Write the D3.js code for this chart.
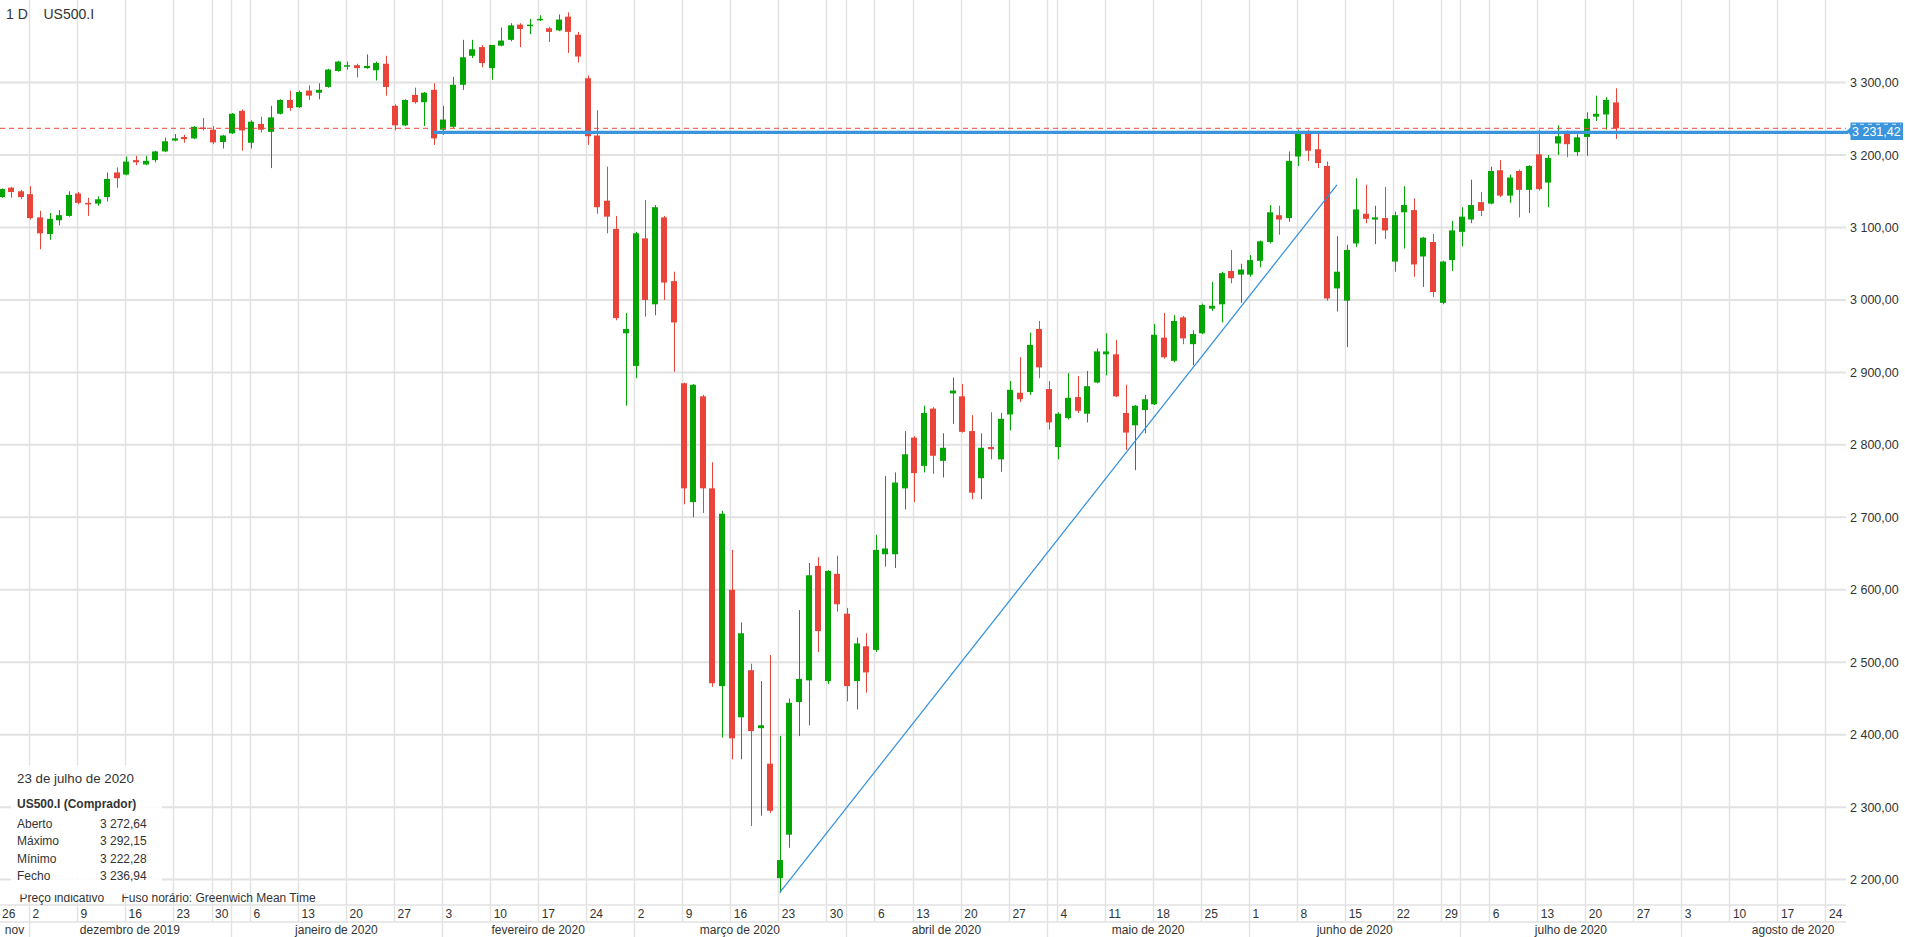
<!DOCTYPE html>
<html><head><meta charset="utf-8">
<script src="https://cdn.jsdelivr.net/npm/d3@7"></script>
<style>
html,body{margin:0;padding:0;background:#fff;overflow:hidden}
svg{display:block;font-family:"Liberation Sans",Arial,sans-serif}
</style></head><body>
<svg id="chart" width="1905" height="937"></svg>
<script>
// ---------- DATA ----------
const symbol = "US500.I";
const period = "1 D";
const firstDay = "2019-11-26", lastDay = "2020-08-31";
const closedDays = ["2019-12-25", "2020-01-01", "2020-04-10"];
const firstCandle = "2019-11-27";
const opens = [3142,3155,3150,3146,3114,3091,3110,3116,3147,3134,
3133,3142,3176,3173,3193,3187,3193,3205,3220,3225,
3223,3238,3235,3218,3230,3261,3217,3243,3232,3257,
3276,3266,3289,3286,3294,3316,3322,3324,3320,3317,
3326,3268,3241,3283,3273,3290,3235,3239,3297,3337,
3349,3320,3351,3359,3380,3378,3386,3375,3372,3391,
3366,3306,3227,3137,3098,2954,2909,3085,2994,3114,
3026,2885,2721,2867,2740,2467,2600,2424,2489,2409,
2360,2202,2262,2445,2475,2633,2474,2622,2567,2474,
2522,2517,2649,2649,2740,2810,2771,2850,2778,2871,
2867,2819,2754,2797,2780,2842,2872,2873,2960,2877,
2797,2837,2866,2843,2886,2925,2925,2844,2827,2848,
2856,2948,2916,2976,2939,2954,2988,2994,3040,3035,
3035,3054,3080,3117,3113,3198,3229,3208,3185,3016,
2999,3078,3119,3111,3113,3053,3121,3124,3060,3080,
2996,3055,3094,3111,3135,3133,3179,3144,3178,3152,
3201,3162,3216,3230,3204,3225,3253,3256,3272.64];
const highs = [3154,3156,3152,3157,3123,3120,3124,3150,3149,3141,
3143,3176,3183,3198,3199,3199,3206,3224,3229,3228,
3240,3251,3240,3228,3258,3263,3248,3253,3268,3277,
3289,3289,3296,3299,3319,3330,3329,3326,3339,3329,
3337,3270,3277,3293,3287,3299,3268,3308,3359,3359,
3352,3352,3376,3382,3382,3388,3393,3377,3394,3397,
3370,3310,3262,3184,3116,2982,3094,3138,3131,3116,
3039,2886,2884,2869,2776,2709,2655,2555,2498,2474,
2510,2398,2450,2572,2637,2645,2627,2647,2575,2534,
2540,2676,2757,2762,2819,2812,2854,2852,2816,2893,
2884,2841,2816,2845,2844,2888,2921,2955,2971,2888,
2845,2899,2895,2902,2933,2954,2945,2883,2855,2869,
2967,2982,2979,2978,2958,2995,3025,3039,3069,3050,
3062,3082,3131,3130,3205,3235,3235,3230,3191,3088,
3076,3168,3159,3130,3156,3122,3157,3140,3087,3091,
3054,3109,3128,3166,3149,3184,3193,3173,3180,3186,
3235,3200,3241,3234,3229,3259,3282,3280,3292.15];
const lows = [3141,3141,3139,3111,3070,3083,3103,3115,3132,3116,
3130,3136,3155,3172,3186,3186,3190,3204,3219,3217,
3222,3234,3215,3209,3229,3206,3209,3231,3182,3256,
3261,3265,3276,3277,3293,3315,3318,3307,3319,3303,
3282,3234,3240,3271,3240,3214,3228,3237,3290,3334,
3321,3304,3350,3357,3349,3367,3385,3356,3371,3341,
3328,3214,3119,3092,2972,2854,2892,2977,2979,3000,
2901,2718,2700,2706,2466,2396,2366,2366,2274,2288,
2292,2182,2244,2398,2413,2514,2470,2570,2446,2435,
2458,2514,2632,2630,2711,2721,2762,2760,2755,2829,
2817,2725,2725,2780,2763,2820,2859,2869,2892,2821,
2780,2835,2844,2831,2885,2896,2866,2793,2765,2816,
2855,2919,2914,2939,2910,2953,2985,2969,3023,2996,
3032,3045,3078,3090,3108,3185,3192,3182,2999,2984,
2935,3073,3106,3077,3084,3039,3071,3032,3018,3004,
2994,3040,3074,3106,3116,3132,3142,3134,3114,3120,
3151,3128,3200,3197,3199,3199,3247,3235,3222.28];
const closes = [3153,3149,3142,3113,3092,3112,3117,3145,3134,3132,
3139,3167,3168,3191,3190,3192,3205,3219,3223,3222,
3239,3236,3217.5,3227,3257,3234,3246,3235,3252,3276,
3265,3287,3282,3290,3318,3329,3324,3320,3323,3327,
3294,3241,3276,3273,3286,3223,3249,3297,3335,3346,
3327,3352,3358,3379,3374,3380,3388,3370,3387,3370,
3336,3226,3128,3115,2975,2960,3092,3000,3128,3024,
2969,2740,2883,2740,2471,2705,2395,2540,2405,2413,
2295,2227,2444,2477,2620,2543,2626,2580,2467,2526,
2486,2655,2657,2748,2787,2761,2844,2785,2796,2875,
2818,2734,2796,2794,2836,2876,2863,2938,2907,2831,
2843,2865,2847,2881,2929,2929,2867,2817,2854,2863,
2952,2921,2971,2947,2953,2993,2992,3037,3030,3042,
3055,3081,3121,3111,3192,3230,3206,3189,3002,3039,
3069,3125,3112,3114,3096,3117,3131,3049,3086,3011,
3053,3096,3115,3131,3123,3178,3144,3169,3152,3185,
3153,3196,3226,3215,3224.5,3250,3257,3276,3236.94];
const priceTicks = [2200,2300,2400,2500,2600,2700,2800,2900,3000,3100,3200,3300];
const monthLabels = ["nov","dezembro de 2019","janeiro de 2020","fevereiro de 2020","março de 2020",
  "abril de 2020","maio de 2020","junho de 2020","julho de 2020","agosto de 2020"];
const lastPrice = 3236.94;
const levelLine = {from: "2020-01-31", value: 3231.42};
const trendLine = [{date: "2020-03-23", value: 2182}, {date: "2020-06-12", value: 3159}];
const infoDate = "23 de julho de 2020";
const infoTitle = "US500.I (Comprador)";
const infoRows = [["Aberto", 3272.64], ["Máximo", 3292.15], ["Mínimo", 3222.28], ["Fecho", 3236.94]];
const footer = ["Preço indicativo", "Fuso horário: Greenwich Mean Time"];

// ---------- SETUP ----------
const W = 1905, H = 937, plotRight = 1846, plotBottom = 905, rowLine = 922;
const GREEN = "#03a503", RED = "#e8443a", GRID = "#e2e2e2", BLUE = "#3a95dc", TXT = "#333";
const loc = d3.formatLocale({decimal: ",", thousands: " ", grouping: [3], currency: ["", ""]});
const fmt = loc.format(",.2f");

const tradingDays = [];
{
  const closed = new Set(closedDays);
  let t = Date.parse(firstDay + "T00:00:00Z");
  const end = Date.parse(lastDay + "T00:00:00Z");
  while (t <= end) {
    const d = new Date(t), wd = d.getUTCDay(), s = d.toISOString().slice(0, 10);
    if (wd !== 0 && wd !== 6 && !closed.has(s)) tradingDays.push(s);
    t += 86400000;
  }
}
const idx = new Map(tradingDays.map((d, i) => [d, i]));
const x = d3.scaleLinear().domain([idx.get("2019-12-02"), idx.get("2020-07-20")]).range([30.4, 1586.7]);
const gx = d => x(idx.get(d)) - 1.4;
const y = d3.scaleLinear().domain([2200, 3300]).range([879.6, 82.6]);

const start = idx.get(firstCandle);
const candles = opens.map((o, i) => ({date: tradingDays[start + i], o, h: highs[i], l: lows[i], c: closes[i]}));

const svg = d3.select("#chart");
svg.append("rect").attr("width", W).attr("height", H).attr("fill", "#fff");

// week and month starts
const weekStarts = [], monthStarts = [];
tradingDays.forEach((d, i) => {
  const prev = tradingDays[i - 1];
  const dt = new Date(d + "T00:00:00Z");
  if (!prev) { weekStarts.push(d); monthStarts.push(d); return; }
  const pd = new Date(prev + "T00:00:00Z");
  if ((dt - pd) / 86400000 > 2 || dt.getUTCDay() < pd.getUTCDay()) weekStarts.push(d);
  if (dt.getUTCMonth() !== pd.getUTCMonth()) monthStarts.push(d);
});

// ---------- GRID ----------
const grid = svg.append("g");
grid.selectAll("line.h").data(priceTicks).join("line")
  .attr("x1", 0).attr("x2", plotRight).attr("y1", d => y(d)).attr("y2", d => y(d))
  .attr("stroke", GRID).attr("stroke-width", 2);
const vlines = Array.from(new Set(weekStarts.concat(monthStarts))).filter(d => gx(d) > 0 && gx(d) < plotRight);
grid.selectAll("line.v").data(vlines).join("line")
  .attr("x1", d => Math.round(gx(d)) + 0.5).attr("x2", d => Math.round(gx(d)) + 0.5)
  .attr("y1", 0).attr("y2", rowLine)
  .attr("stroke", GRID).attr("stroke-width", 1.4);
grid.selectAll("line.m").data(monthStarts.filter(d => gx(d) > 0)).join("line")
  .attr("x1", d => Math.round(gx(d)) + 0.5).attr("x2", d => Math.round(gx(d)) + 0.5)
  .attr("y1", rowLine).attr("y2", H)
  .attr("stroke", GRID).attr("stroke-width", 1.4);
[plotBottom, rowLine].forEach(v => grid.append("line").attr("x1", 0).attr("x2", plotRight)
  .attr("y1", v).attr("y2", v).attr("stroke", GRID).attr("stroke-width", 1.5));

// ---------- CANDLES ----------
const cg = svg.append("g");
const cs = cg.selectAll("g").data(candles).join("g");
cs.append("line")
  .attr("x1", d => Math.round(x(idx.get(d.date)) - 3) + 3.5)
  .attr("x2", d => Math.round(x(idx.get(d.date)) - 3) + 3.5)
  .attr("y1", d => y(d.h)).attr("y2", d => y(d.l))
  .attr("stroke", d => d.c >= d.o ? GREEN : RED).attr("stroke-width", 1);
cs.append("rect")
  .attr("x", d => Math.round(x(idx.get(d.date)) - 3))
  .attr("width", 6)
  .attr("y", d => y(Math.max(d.o, d.c)))
  .attr("height", d => Math.max(1.5, Math.abs(y(d.o) - y(d.c))))
  .attr("fill", d => d.c >= d.o ? GREEN : RED);

// ---------- ANNOTATION LINES ----------
svg.append("line").attr("x1", 0).attr("x2", plotRight)
  .attr("y1", y(lastPrice)).attr("y2", y(lastPrice))
  .attr("stroke", RED).attr("stroke-width", 1).attr("stroke-dasharray", "5,4");
svg.append("line").attr("x1", x(idx.get(levelLine.from))).attr("x2", plotRight + 2)
  .attr("y1", y(levelLine.value)).attr("y2", y(levelLine.value))
  .attr("stroke", BLUE).attr("stroke-width", 3.2);
svg.append("path")
  .datum(trendLine)
  .attr("d", d3.line().x(d => x(idx.get(d.date))).y(d => y(d.value)))
  .attr("fill", "none").attr("stroke", "#2f8fdf").attr("stroke-width", 1.2);

// ---------- TITLE ----------
svg.append("text").attr("x", 6).attr("y", 13.5).attr("dominant-baseline", "central")
  .attr("font-size", 14).attr("fill", TXT).text(period);
svg.append("text").attr("x", 43.5).attr("y", 13.5).attr("dominant-baseline", "central")
  .attr("font-size", 14).attr("fill", TXT).text(symbol);

// ---------- Y AXIS ----------
const yAxis = d3.axisRight(y).tickValues(priceTicks).tickFormat(fmt).tickSize(0).tickPadding(4);
const ya = svg.append("g").attr("transform", `translate(${plotRight},0)`).call(yAxis);
ya.select(".domain").remove();
ya.selectAll("text").attr("font-size", 12.5).attr("fill", TXT).attr("font-family", "Liberation Sans, Arial, sans-serif");

// price label for level line
const ly = y(levelLine.value) - 1;
svg.append("path")
  .attr("d", `M${plotRight + 0.5},${ly} L${plotRight + 4.5},${ly - 4} L${plotRight + 4.5},${ly - 8.7} L1903,${ly - 8.7} L1903,${ly + 8.7} L${plotRight + 4.5},${ly + 8.7} L${plotRight + 4.5},${ly + 4} Z`)
  .attr("fill", BLUE);
svg.append("line").attr("x1", plotRight + 6).attr("x2", 1901).attr("y1", ly - 7).attr("y2", ly - 7)
  .attr("stroke", "#d6ebfa").attr("stroke-width", 1).attr("stroke-dasharray", "4,4");
svg.append("text").attr("x", plotRight + 6).attr("y", ly + 0.5).attr("dominant-baseline", "central")
  .attr("font-size", 12.5).attr("fill", "#fff").text(fmt(levelLine.value));

// ---------- X AXIS ----------
const xa = svg.append("g");
xa.selectAll("text.w").data(weekStarts.filter(d => gx(d) < plotRight - 10)).join("text")
  .attr("x", d => Math.max(gx(d) + 3.5, 2))
  .attr("y", 913.5).attr("dominant-baseline", "central")
  .attr("font-size", 12).attr("fill", TXT)
  .text(d => +d.slice(8, 10));
const bounds = monthStarts.map(d => Math.max(gx(d), 0));
xa.selectAll("text.m").data(monthLabels).join("text")
  .attr("x", (d, i) => ((bounds[i]) + (i + 1 < bounds.length ? bounds[i + 1] : W)) / 2)
  .attr("y", 930).attr("dominant-baseline", "central").attr("text-anchor", "middle")
  .attr("font-size", 12).attr("fill", TXT)
  .text(d => d);

// ---------- INFO BOX ----------
const ib = svg.append("g");
ib.append("text").attr("x", 19.5).attr("y", 897.5).attr("dominant-baseline", "central")
  .attr("font-size", 12).attr("fill", TXT).text(footer[0]);
ib.append("text").attr("x", 121.5).attr("y", 897.5).attr("dominant-baseline", "central")
  .attr("font-size", 12).attr("fill", TXT).text(footer[1]);
ib.append("rect").attr("x", 11).attr("y", 765).attr("width", 151).attr("height", 129.5)
  .attr("fill", "#fff").attr("fill-opacity", 0.9);
ib.append("text").attr("x", 17).attr("y", 778.5).attr("dominant-baseline", "central")
  .attr("font-size", 13.3).attr("fill", TXT).text(infoDate);
ib.append("text").attr("x", 17).attr("y", 803.5).attr("dominant-baseline", "central")
  .attr("font-size", 12).attr("font-weight", "bold").attr("fill", TXT).text(infoTitle);
infoRows.forEach((r, i) => {
  const yy = 824 + i * 17.3;
  ib.append("text").attr("x", 17).attr("y", yy).attr("dominant-baseline", "central")
    .attr("font-size", 12).attr("fill", TXT).text(r[0]);
  ib.append("text").attr("x", 100).attr("y", yy).attr("dominant-baseline", "central")
    .attr("font-size", 12).attr("fill", TXT).text(fmt(r[1]));
});
</script>
</body></html>
